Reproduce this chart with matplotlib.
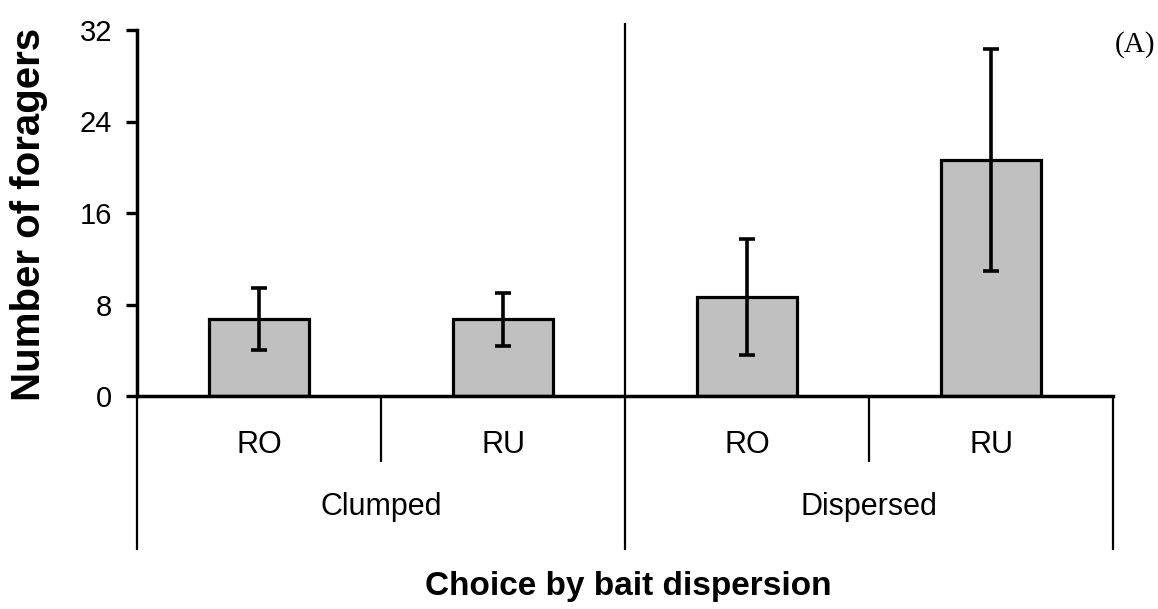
import matplotlib.pyplot as plt

# data
groups = ["Clumped", "Dispersed"]
choices = ["RO", "RU", "RO", "RU"]
means = [6.7, 6.7, 8.65, 20.6]
errors = [2.7, 2.3, 5.1, 9.7]

plt.rcParams['font.family'] = ['Liberation Sans', 'DejaVu Sans']

fig = plt.figure(figsize=(11.58, 6.09), dpi=100)
ax = fig.add_axes([137/1158, 1-396/609, (1113-137)/1158, (396-30)/609])

x = list(range(len(means)))
ax.bar(x, means, width=0.41, color="#c0c0c0", edgecolor="black", linewidth=2.3, zorder=2)
ax.errorbar(x, means, yerr=errors, fmt="none", ecolor="black", elinewidth=2.6,
            capsize=6, capthick=2.6, zorder=3)

ax.set_xlim(-0.5, 3.5)
ax.set_ylim(0, 32)
ax.set_yticks([0, 8, 16, 24, 32])
ax.set_xticks([])
ax.tick_params(axis="y", length=8, width=2.4, labelsize=21, pad=10)

for s in ["top", "right"]:
    ax.spines[s].set_visible(False)
ax.spines["left"].set_linewidth(2.5)
ax.spines["bottom"].set_linewidth(2.5)

# multi-level category axis lines
kw = dict(color="black", clip_on=False, solid_capstyle="butt")
ax.plot([-0.5, -0.5], [0, -13.5], lw=1.6, **kw)
ax.plot([0.5, 0.5], [0, -5.8], lw=1.6, **kw)
ax.plot([1.5, 1.5], [32.6, -13.5], lw=1.6, **kw)
ax.plot([2.5, 2.5], [0, -5.8], lw=1.6, **kw)
ax.plot([3.5, 3.5], [0, -13.5], lw=1.6, **kw)

for i, c in enumerate(choices):
    ax.text(i, -5.0, c, ha="center", va="baseline", fontsize=22)
for j, g in enumerate(groups):
    ax.text(2*j + 0.5, -10.4, g, ha="center", va="baseline", fontsize=22)

fig.text(29/1158, 1-214/609, "Number of foragers", rotation=90, ha="center", va="center",
         fontsize=29, fontweight="bold")
fig.text(628/1158, 1-586/609, "Choice by bait dispersion", ha="center", va="center",
         fontsize=24, fontweight="bold")
fig.text(1155/1158, 1-45/609, "(A)", ha="right", va="center", fontsize=21,
         family="Liberation Serif")

fig.savefig("out.png", dpi=100)
